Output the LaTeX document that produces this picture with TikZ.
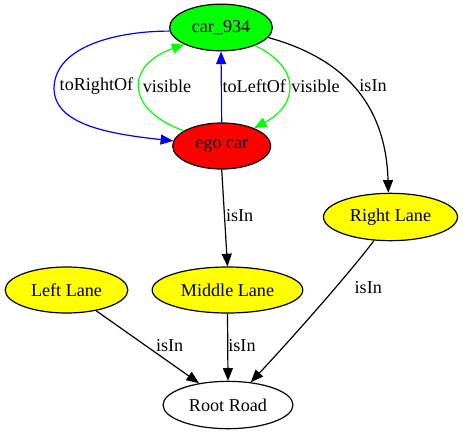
\documentclass[tikz,border=0pt]{standalone}
\usepackage{fontspec}
\setmainfont{Liberation Serif}
\usetikzlibrary{shapes.geometric,arrows.meta}
\definecolor{gvgreen}{RGB}{0,255,0}
\definecolor{gvred}{RGB}{255,0,0}
\definecolor{gvyellow}{RGB}{255,255,0}
\definecolor{gvblue}{RGB}{0,0,255}
\begin{document}
\begin{tikzpicture}[x=0.75pt,y=-0.75pt,
  font=\fontsize{13.6pt}{16pt}\selectfont,
  gnode/.style={ellipse,draw=black,line width=0.9pt,inner sep=0pt},
  edge/.style={line width=0.9pt,-{Triangle[length=9.5pt,width=7.5pt]}},
  elabel/.style={inner sep=0pt,anchor=center}]
  \useasboundingbox (0,0) rectangle (463,435);

  % nodes
  \node[gnode,fill=gvgreen,minimum width=77pt,minimum height=35pt] (car) at (221,27.5) {car\_934};
  \node[gnode,fill=gvred,minimum width=73.5pt,minimum height=34.5pt] (ego) at (221.7,146) {ego car};
  \node[gnode,fill=gvyellow,minimum width=100.5pt,minimum height=35.5pt] (right) at (390.5,217) {Right Lane};
  \node[gnode,fill=gvyellow,minimum width=92pt,minimum height=34.5pt] (left) at (66.5,290) {Left Lane};
  \node[gnode,fill=gvyellow,minimum width=113pt,minimum height=34.5pt] (middle) at (227.5,290) {Middle Lane};
  \node[gnode,fill=white,minimum width=97.5pt,minimum height=35.5pt] (root) at (228,405) {Root Road};

  % relations between the cars
  \draw[edge,gvblue] (car.184) .. controls (120,31) and (55,45) .. (54,88)
        .. controls (54,125) and (110,134) .. (ego.174);
  \draw[edge,gvgreen] (ego.158) .. controls (125,110) and (125,65) .. (car.205);
  \draw[edge,gvblue] (ego.north) -- (car.south);
  \draw[edge,gvgreen] (car.332) .. controls (302,68) and (298,105) .. (ego.29);

  % lane membership
  \draw[edge] (car.348) .. controls (350,60) and (386,110) .. (right.95);
  \draw[edge] (ego.south) -- (middle.north);
  \draw[edge] (left.-35) -- (root.143);
  \draw[edge] (middle.south) -- (root.north);
  \draw[edge] (right.235) .. controls (352,270) and (295,335) .. (root.45);

  % edge labels
  \node[elabel] (l1) at (96.5,86) {toRightOf};
  \node[elabel] (l2) at (167,86) {visible};
  \node[elabel] (l3) at (254.3,86) {toLeftOf};
  \node[elabel] (l4) at (315.5,86) {visible};
  \node[elabel] (l5) at (373,86) {isIn};
  \node[elabel] (l6) at (239.7,216) {isIn};
  \node[elabel] (l7) at (169.7,346) {isIn};
  \node[elabel] (l8) at (242,346) {isIn};
  \node[elabel] (l9) at (368.3,288) {isIn};
\end{tikzpicture}
\end{document}
